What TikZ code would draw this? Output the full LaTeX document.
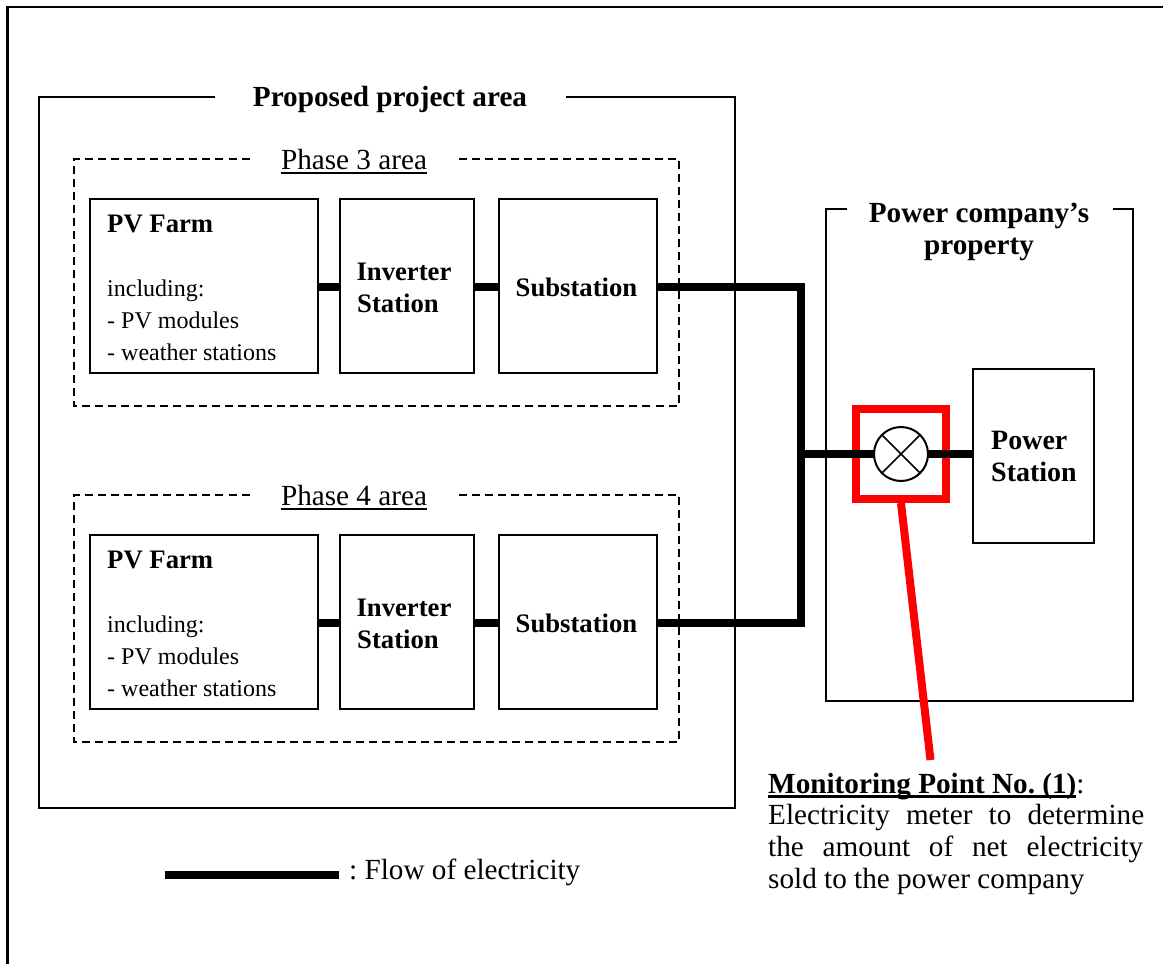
\documentclass[tikz,border=0pt]{standalone}
\usepackage{fontspec}
\setmainfont{Liberation Serif}
\newsavebox\ulbox
\newcommand{\myul}[3]{\sbox\ulbox{#3}\rlap{\rule[#1]{\wd\ulbox}{#2}}\usebox\ulbox}
\tikzset{
  x=1pt,y=-1pt,
  blackbox/.style={draw=black,line width=2pt,inner sep=0,outer sep=0,fill=white},
  framepath/.style={draw=black,line width=2pt},
  areapath/.style={draw=black,line width=1.6pt,dash pattern=on 8pt off 5.04pt},
  wire/.style={draw=black,line width=8pt},
  redline/.style={draw=red,line width=8pt},
  boldbig/.style={font=\fontsize{29.2}{32}\selectfont\bfseries\frenchspacing,inner sep=0,anchor=base},
  boldtxt/.style={font=\fontsize{26.7}{32}\selectfont\bfseries,inner sep=0,anchor=base},
  boldleft/.style={font=\fontsize{26.7}{32}\selectfont\bfseries,inner sep=0,anchor=base west},
  stationtxt/.style={font=\fontsize{28}{32}\selectfont\bfseries,inner sep=0,anchor=base west},
  regtxt/.style={font=\fontsize{29.2}{32}\selectfont\frenchspacing,inner sep=0,anchor=base},
  smalltxt/.style={font=\fontsize{24}{32}\selectfont,inner sep=0,anchor=base west},
}
\begin{document}
\begin{tikzpicture}
\useasboundingbox (0,0) rectangle (1163,964);
\fill[white] (0,0) rectangle (1163,964);
% page frame
\draw[line width=2.2pt] (7.5,964) -- (7.5,7) -- (1163,7);
% project area
\draw[framepath] (215,97) -- (39,97) -- (39,808) -- (735,808) -- (735,97) -- (566,97);
\node[boldbig] (projlabel) at (390,106.5) {Proposed project area};
% phase areas
\foreach \dy/\n in {0/3,336/4}{
  \draw[areapath] (459,159+\dy) -- (679,159+\dy) -- (679,406+\dy) -- (74,406+\dy) -- (74,159+\dy) -- (250,159+\dy);
  \node[regtxt] (phase\n) at (354,169.5+\dy) {\myul{-4.3pt}{2pt}{Phase \n\ area}};
  \node[blackbox,minimum width=228,minimum height=174] (pv\n) at (204,286+\dy) {};
  \node[blackbox,minimum width=134,minimum height=174] (inv\n) at (407,286+\dy) {};
  \node[blackbox,minimum width=158,minimum height=174] (sub\n) at (578,286+\dy) {};
  \node[boldleft] (pvt\n) at (107,232+\dy) {PV Farm};
  \node[smalltxt] (inc\n) at (107,296+\dy) {including:};
  \node[smalltxt] (mod\n) at (107,328+\dy) {- PV modules};
  \node[smalltxt] (wea\n) at (107,360+\dy) {- weather stations};
  \node[boldtxt] (invA\n) at (404,280+\dy) {Inverter};
  \node[boldtxt] (invB\n) at (398,312+\dy) {Station};
  \node[boldtxt] (subt\n) at (576.5,296+\dy) {Substation};
  \draw[wire] ([yshift=-1pt]pv\n.east) -- ([yshift=-1pt]inv\n.west);
  \draw[wire] ([yshift=-1pt]inv\n.east) -- ([yshift=-1pt]sub\n.west);
}
% power company
\draw[framepath] (847,209) -- (826,209) -- (826,701) -- (1133,701) -- (1133,209) -- (1113,209);
\node[boldbig] (pcA) at (979,222) {Power company’s};
\node[boldbig] (pcB) at (979,254) {property};
\coordinate (j3) at (801,287);
\coordinate (j4) at (801,623);
\coordinate (jm) at (801,454);
\draw[wire] ([yshift=-1pt]sub3.east) -- ([xshift=4pt]j3);
\draw[wire] ([yshift=-1pt]sub4.east) -- ([xshift=4pt]j4);
\draw[wire] ([yshift=-4pt]j3) -- ([yshift=4pt]j4);
\node[blackbox,minimum width=121,minimum height=174] (ps) at (1033.5,456) {};
\node[stationtxt] (psA) at (991,449) {Power};
\node[stationtxt] (psB) at (991,481) {Station};
\node[draw=red,line width=8pt,inner sep=0,outer sep=4pt,minimum width=90,minimum height=90] (redbox) at (901,454) {};
\draw[wire] (jm) -- (redbox.center);
\draw[wire] (redbox.center) -- (redbox.center -| ps.west);
\node[circle,draw=black,line width=2pt,fill=white,inner sep=0,outer sep=0,minimum size=54] (meter) at (901,454) {};
\draw[line width=1.6pt] (meter.45) -- (meter.225) (meter.135) -- (meter.315);
\coordinate (redend) at (930.5,760);
\draw[redline] (redbox.south) -- (redend);
% monitoring text
\node[regtxt,anchor=base west] (monA) at (768,793) {\myul{-4.5pt}{2.5pt}{\textbf{Monitoring Point No. (1)}}:};
\node[regtxt,anchor=base west] (monB) at (768,824.5) {\hbox to 376pt{Electricity\hfill meter\hfill to\hfill determine}};
\node[regtxt,anchor=base west] (monC) at (768,856.5) {\hbox to 375pt{the\hfill amount\hfill of\hfill net\hfill electricity}};
\node[regtxt,anchor=base west] (monD) at (768,888.5) {sold to the power company};
% legend
\node[regtxt,anchor=base west] (legt) at (349,879) {: Flow of electricity};
\coordinate (legA) at (165,875);
\coordinate (legB) at (339,875);
\draw[wire,line width=8.5pt] (legA) -- (legB);
\end{tikzpicture}
\end{document}
